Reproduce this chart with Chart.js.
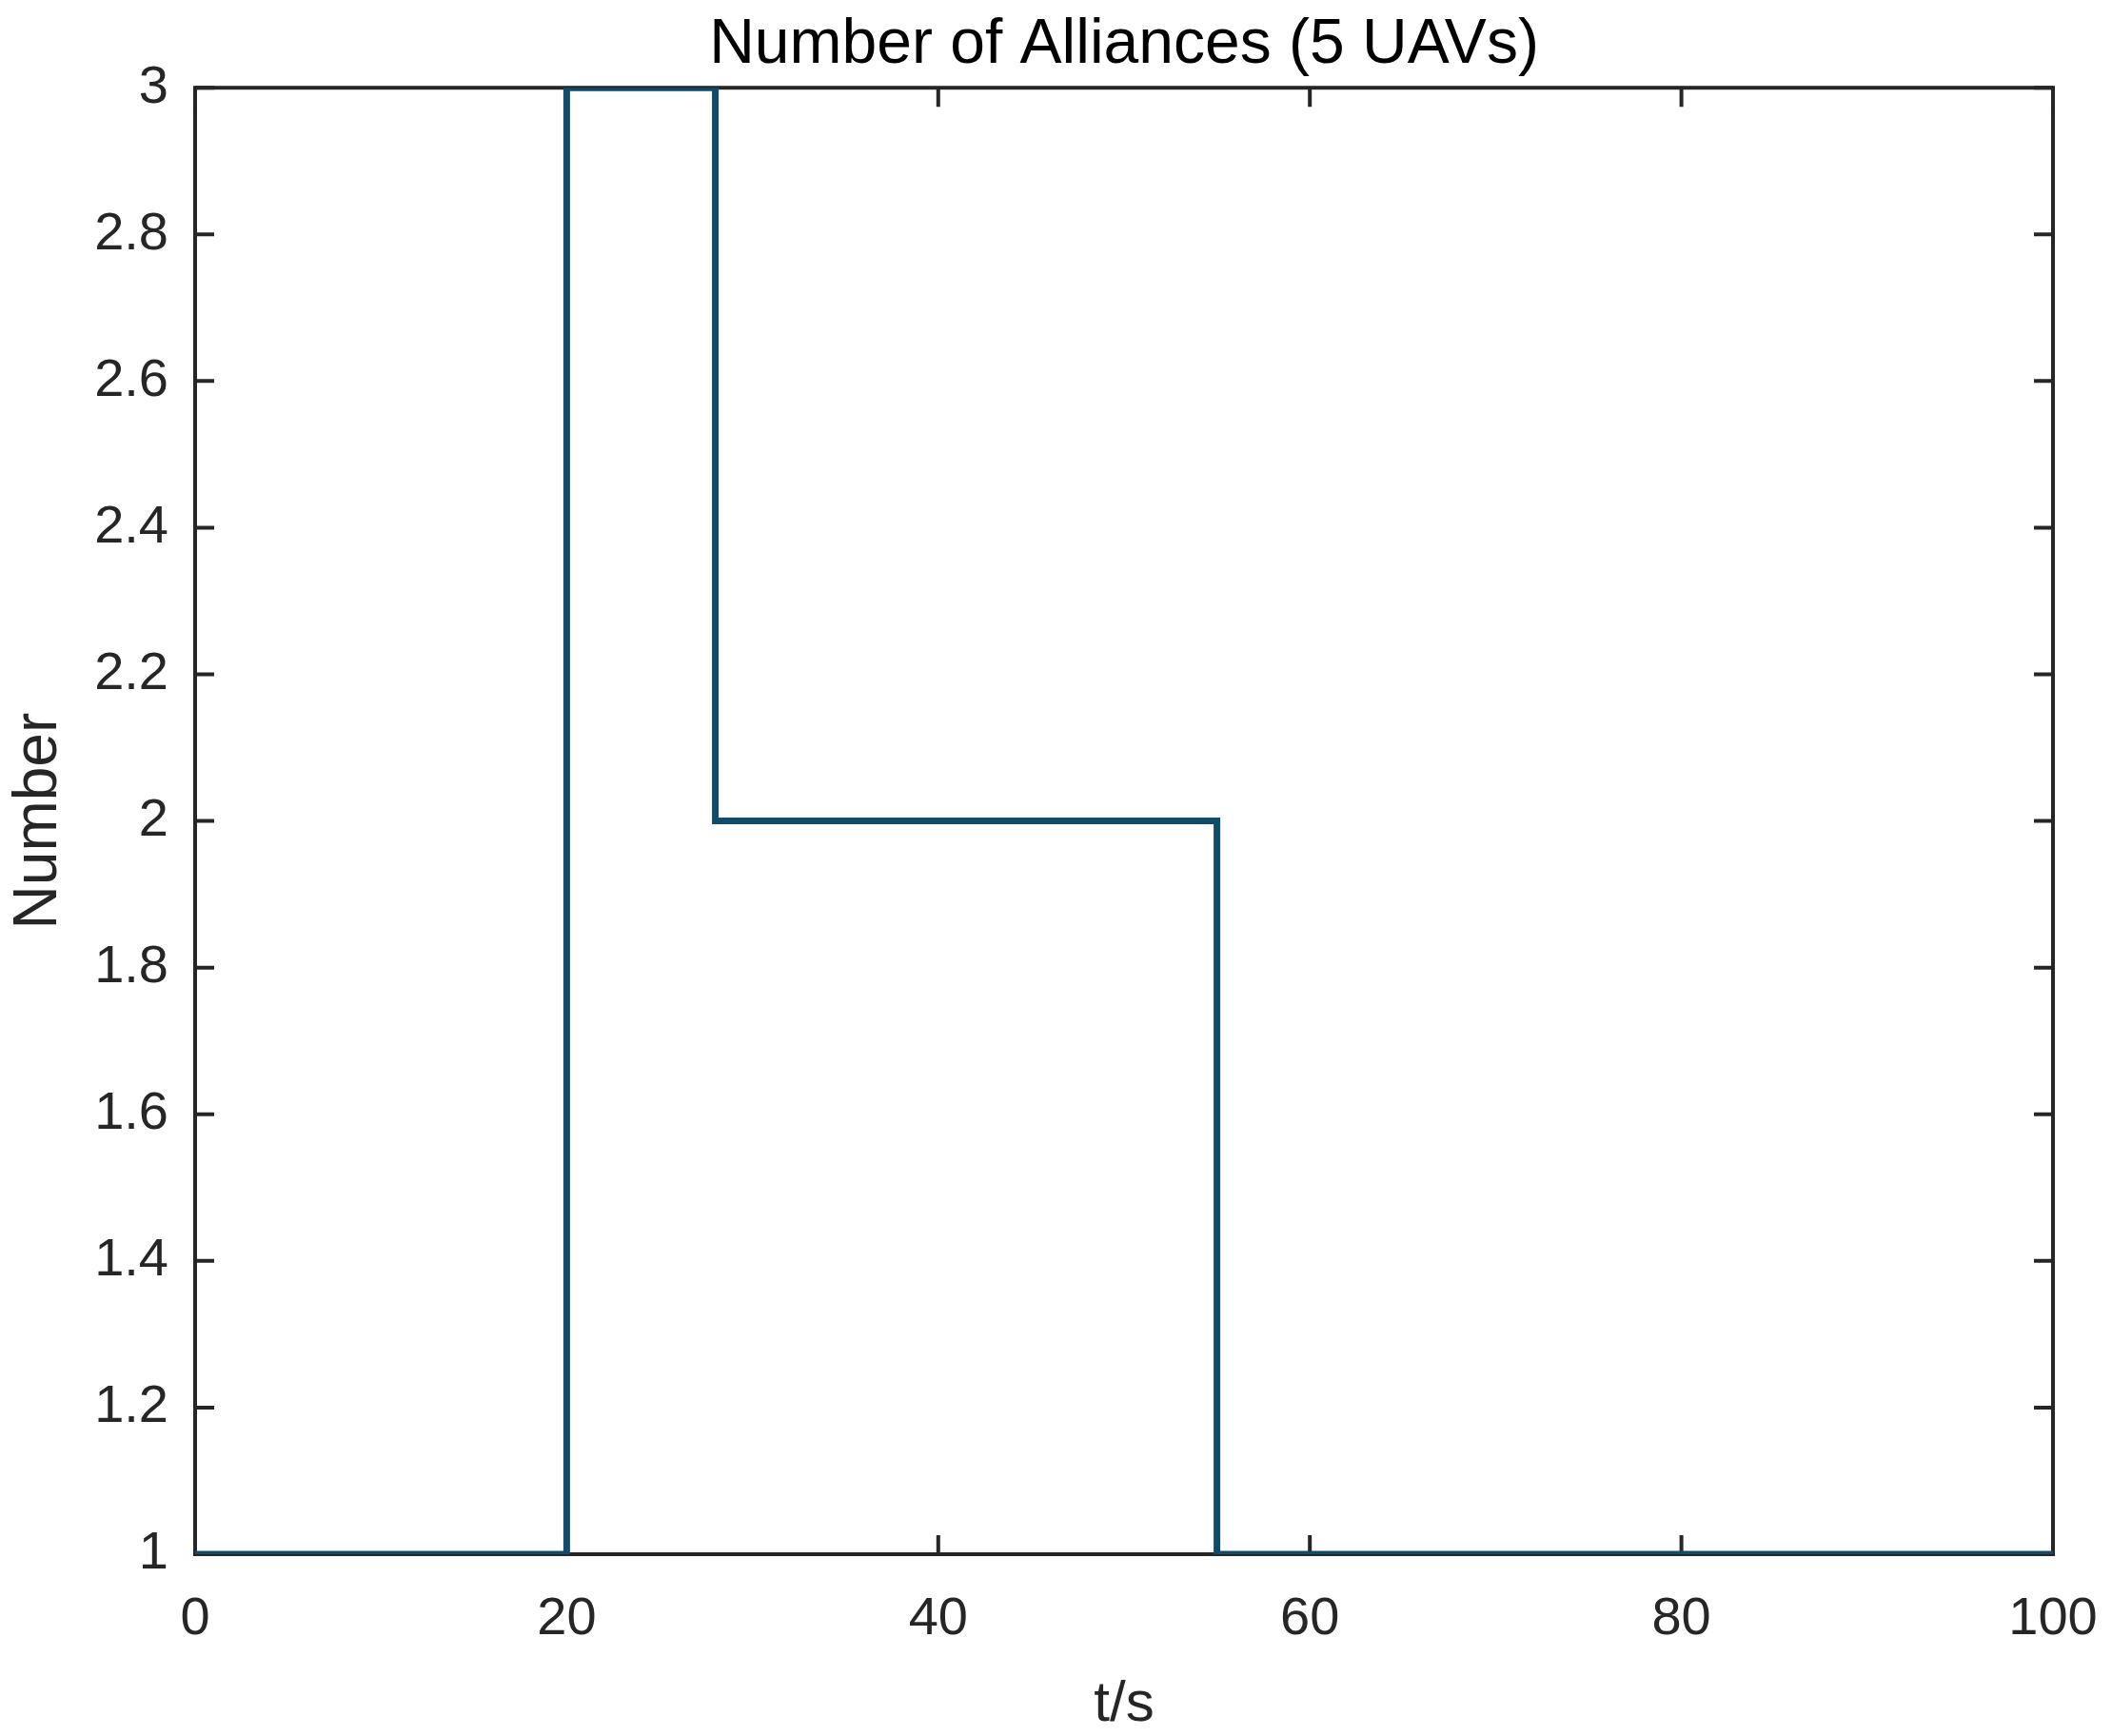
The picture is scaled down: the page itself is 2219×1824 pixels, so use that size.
<!DOCTYPE html>
<html>
<head>
<meta charset="utf-8">
<script src="https://cdn.jsdelivr.net/npm/chart.js@4/dist/chart.umd.min.js"></script>
<style>
  html, body { margin: 0; padding: 0; background: #ffffff; }
  #wrap { width: 2219px; height: 1824px; }
</style>
</head>
<body>
<div id="wrap"><canvas id="c" width="2219" height="1824"></canvas></div>
<script>
// ---- data ----
const timePoints = [0, 20, 28, 55, 100];
const allianceCounts = [1, 3, 2, 1, 1];
const xTickValues = [0, 20, 40, 60, 80, 100];
const xTickLabels = ['0', '20', '40', '60', '80', '100'];
const yTickValues = [1, 1.2, 1.4, 1.6, 1.8, 2, 2.2, 2.4, 2.6, 2.8, 3];
const yTickLabels = ['1', '1.2', '1.4', '1.6', '1.8', '2', '2.2', '2.4', '2.6', '2.8', '3'];
const chartTitle = 'Number of Alliances (5 UAVs)';
const xAxisTitle = 't/s';
const yAxisTitle = 'Number';

const FONT = '"Liberation Sans", Arial, Helvetica, sans-serif';
const AXIS_COLOR = '#262626';

const boxTicks = {
  id: 'boxTicks',
  beforeDatasetsDraw(chart) {
    const { ctx, chartArea: a, scales } = chart;
    const len = 20;
    ctx.save();
    ctx.strokeStyle = AXIS_COLOR;
    ctx.lineWidth = 4;
    ctx.lineCap = 'butt';
    ctx.strokeRect(a.left, a.top, a.right - a.left, a.bottom - a.top);
    ctx.beginPath();
    scales.x.ticks.forEach(t => {
      const px = scales.x.getPixelForValue(t.value);
      ctx.moveTo(px, a.bottom); ctx.lineTo(px, a.bottom - len);
      ctx.moveTo(px, a.top); ctx.lineTo(px, a.top + len);
    });
    scales.y.ticks.forEach(t => {
      const py = scales.y.getPixelForValue(t.value);
      ctx.moveTo(a.left, py); ctx.lineTo(a.left + len, py);
      ctx.moveTo(a.right, py); ctx.lineTo(a.right - len, py);
    });
    ctx.stroke();
    ctx.restore();
  }
};

new Chart(document.getElementById('c'), {
  type: 'line',
  data: {
    datasets: [{
      data: timePoints.map((t, i) => ({ x: t, y: allianceCounts[i] })),
      stepped: 'before',
      borderColor: '#0f4b6a',
      borderWidth: 7,
      pointRadius: 0,
      fill: false,
      borderJoinStyle: 'miter',
      borderCapStyle: 'butt'
    }]
  },
  options: {
    responsive: false,
    animation: false,
    devicePixelRatio: 1,
    layout: { padding: { top: 0, right: 62, bottom: 0, left: 0 } },
    plugins: {
      legend: { display: false },
      tooltip: { enabled: false },
      title: {
        display: true,
        fullSize: false,
        text: chartTitle,
        color: '#000000',
        font: { family: FONT, size: 66, weight: 'normal', lineHeight: 1.2 },
        padding: { top: 8, bottom: 5 }
      }
    },
    scales: {
      x: {
        type: 'linear',
        min: 0, max: 100,
        afterBuildTicks: s => { s.ticks = xTickValues.map(v => ({ value: v })); },
        afterFit: s => { s.height = 191; s.paddingLeft = 0; s.paddingRight = 0; },
        grid: { display: false, drawTicks: false },
        border: { display: false },
        ticks: {
          color: AXIS_COLOR,
          font: { family: FONT, size: 56 },
          padding: 35,
          maxRotation: 0,
          autoSkip: false,
          callback: (v, i) => xTickLabels[i]
        },
        title: {
          display: true,
          text: xAxisTitle,
          color: AXIS_COLOR,
          font: { family: FONT, size: 60, lineHeight: 1 },
          padding: { top: 0, bottom: 3 }
        }
      },
      y: {
        type: 'linear',
        min: 1, max: 3,
        afterBuildTicks: s => { s.ticks = yTickValues.map(v => ({ value: v })); },
        afterFit: s => { s.width = 205; s.paddingTop = 0; s.paddingBottom = 0; },
        grid: { display: false, drawTicks: false },
        border: { display: false },
        ticks: {
          color: AXIS_COLOR,
          font: { family: FONT, size: 56 },
          padding: 28,
          autoSkip: false,
          callback: (v, i) => yTickLabels[i]
        },
        title: {
          display: true,
          text: yAxisTitle,
          color: AXIS_COLOR,
          font: { family: FONT, size: 64, lineHeight: 1.2 },
          padding: { top: 3, bottom: 0 }
        }
      }
    }
  },
  plugins: [boxTicks]
});
</script>
</body>
</html>
